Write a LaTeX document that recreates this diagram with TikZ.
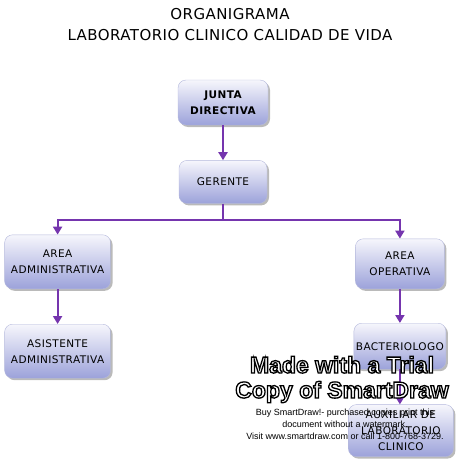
\documentclass[tikz,border=0pt]{standalone}
\usepackage{fontspec}
\setmainfont{DejaVu Sans}
\newfontfamily\boxfont[LetterSpace=4]{DejaVu Sans}
\newfontfamily\titlefont[LetterSpace=3]{DejaVu Sans}
\newfontfamily\markfont{Liberation Sans}
\newcommand{\hollow}[1]{\special{pdf:literal direct 2 Tr 1.3 w 0 G}#1\special{pdf:literal direct 0 Tr}}
\usetikzlibrary{positioning, shadows, arrows.meta}

\definecolor{linkpurple}{HTML}{7535AE}
\definecolor{boxtop}{HTML}{F6F6FC}
\definecolor{boxbottom}{HTML}{9CA2DA}
\definecolor{boxline}{HTML}{B4B8DC}

\begin{document}
\begin{tikzpicture}[
    x=1pt, y=1pt,
    every node/.style={align=center, font=\boxfont\fontsize{10.5}{16}\selectfont},
    post/.style={rectangle, rounded corners=8pt, draw=boxline, thin,
        top color=boxtop, bottom color=boxbottom,
        drop shadow={shadow xshift=2pt, shadow yshift=-2pt, opacity=0.45, fill=black!60},
        inner sep=2pt},
    link/.style={draw=linkpurple, line width=2pt, -{Triangle[width=9pt,length=8pt]}},
    bus/.style={draw=linkpurple, line width=2pt}
]
\useasboundingbox (0,0) rectangle (459,-463);

% Title
\node[font=\titlefont\fontsize{15}{21}\selectfont] (title) at (230,-24.5) {ORGANIGRAMA\\LABORATORIO CLINICO CALIDAD DE VIDA};

% Nodes
\node[post, minimum width=90pt, minimum height=45pt] (junta) at (223,-102.5) {\bfseries JUNTA\\\bfseries DIRECTIVA};
\node[post, minimum width=88pt, minimum height=43pt, below=35pt of junta] (gerente) {GERENTE};

% Left: administrative area
\node[post, minimum width=106pt, minimum height=54pt, below left=31pt and 68pt of gerente] (admin) {AREA\\ADMINISTRATIVA};
\node[post, minimum width=106pt, minimum height=54pt, below=35pt of admin] (asistente) {ASISTENTE\\ADMINISTRATIVA};

% Right: operative area
\node[post, minimum width=89pt, minimum height=50pt, below right=35pt and 88pt of gerente] (operativa) {AREA\\OPERATIVA};
\node[post, minimum width=91pt, minimum height=46pt, below=34pt of operativa] (bacterio) {BACTERIOLOGO};
\node[post, minimum width=105pt, minimum height=52pt, below=35pt of bacterio, xshift=1pt] (auxiliar) {AUXILIAR DE\\LABORATORIO\\CLINICO};

% Edges
\draw[link] (junta) -- (gerente);
\draw[bus] (gerente.south) -- ++(0,-16) coordinate (split);
\draw[link] (split) -| (admin.north);
\draw[link] (split) -| (operativa.north);
\draw[link] (admin) -- (asistente);
\draw[link] (operativa) -- (bacterio);
\draw[link] (bacterio) -- (auxiliar.north -| bacterio.south);

% Watermark
\node[font=\markfont\bfseries\fontsize{23}{25}\selectfont, text=white] (trial) at (342,-379.5)
    {\hollow{Made with a Trial}\\\hollow{Copy of SmartDraw}};
\node[font=\markfont\fontsize{9}{12}\selectfont, below=-1pt of trial, xshift=3pt] (buy)
    {Buy SmartDraw!- purchased copies print this\\document without a watermark.\\Visit www.smartdraw.com or call 1-800-768-3729.};

\end{tikzpicture}
\end{document}
